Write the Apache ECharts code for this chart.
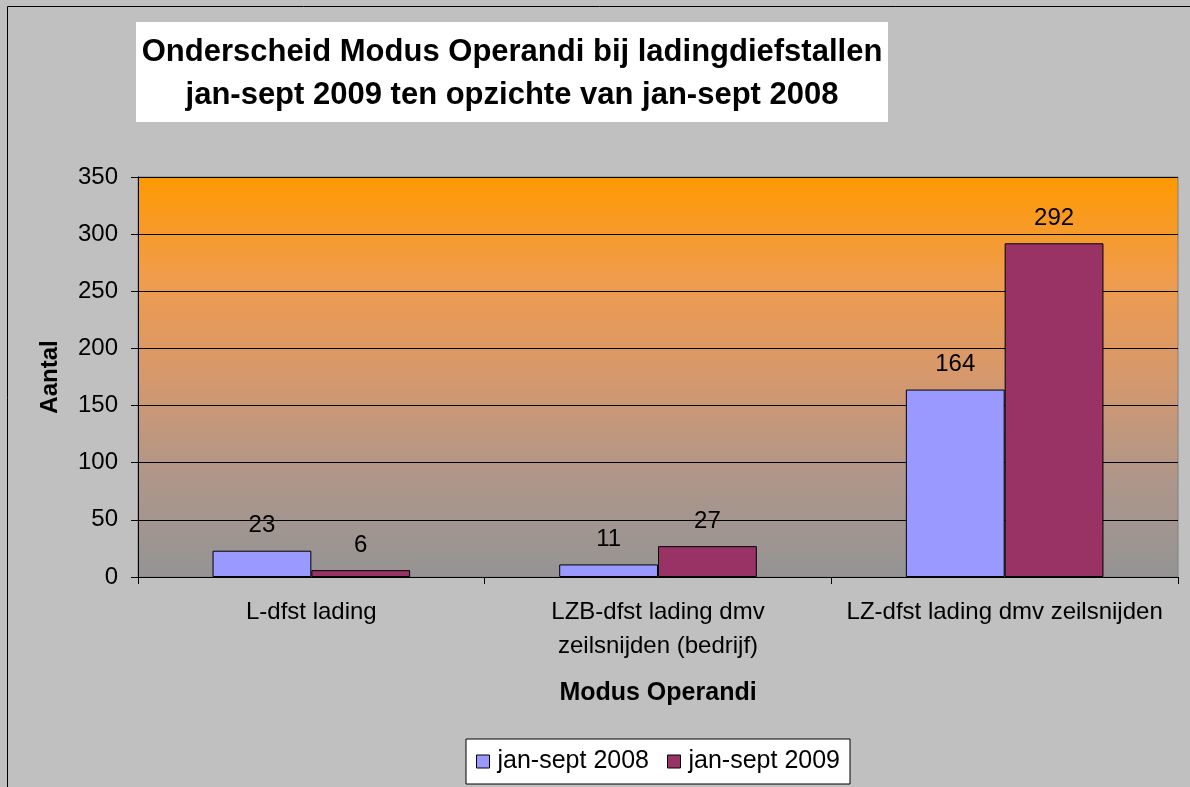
<!DOCTYPE html>
<html>
<head>
<meta charset="utf-8">
<script src="https://cdn.jsdelivr.net/npm/echarts@6/dist/echarts.min.js"></script>
<style>
  html, body { margin: 0; padding: 0; background: #c0c0c0; }
  #main { width: 1190px; height: 787px; }
</style>
</head>
<body>
<div id="main"></div>
<script>
// data
var categories = ['L-dfst lading', 'LZB-dfst lading dmv\nzeilsnijden (bedrijf)', 'LZ-dfst lading dmv zeilsnijden'];
var seriesNames = ['jan-sept 2008', 'jan-sept 2009'];
var values2008 = [23, 11, 164];
var values2009 = [6, 27, 292];
var yTicks = [0, 50, 100, 150, 200, 250, 300, 350];

var font = 'Liberation Sans, Arial, sans-serif';
var chart = echarts.init(document.getElementById('main'));

var barLabel = {
  show: true,
  position: 'top',
  distance: 13,
  color: '#000',
  fontFamily: font,
  fontSize: 24
};

var option = {
  backgroundColor: '#c0c0c0',
  animation: false,
  graphic: [
    {
      type: 'rect',
      shape: { x: 7.5, y: 6.5, width: 1200, height: 800 },
      style: { fill: 'none', stroke: '#000', lineWidth: 1 },
      silent: true
    },
    {
      type: 'rect',
      shape: { x: 136, y: 22, width: 752, height: 100 },
      style: { fill: '#fff' },
      silent: true
    },
    {
      type: 'text',
      x: 512,
      y: 74,
      style: {
        text: 'Onderscheid Modus Operandi bij ladingdiefstallen\njan-sept 2009 ten opzichte van jan-sept 2008',
        fill: '#000',
        font: 'bold 31px ' + font,
        lineHeight: 43,
        align: 'center',
        verticalAlign: 'middle'
      },
      silent: true
    }
  ],
  grid: {
    left: 138,
    top: 177,
    right: 12,
    bottom: 210,
    show: true,
    borderColor: '#808080',
    borderWidth: 1,
    // orange fading to grey, a bit pinkish in the middle
    backgroundColor: new echarts.graphic.LinearGradient(0, 0, 0, 1, [
      { offset: 0, color: '#ff9900' },
      { offset: 0.25, color: '#f09c4c' },
      { offset: 0.5, color: '#d6986c' },
      { offset: 0.75, color: '#af968a' },
      { offset: 1, color: '#949494' }
    ])
  },
  legend: {
    data: seriesNames,
    left: 466,
    top: 739,
    backgroundColor: '#fff',
    borderColor: '#000',
    borderWidth: 1,
    padding: [10, 10, 10, 10],
    itemWidth: 13,
    itemHeight: 13,
    itemGap: 18,
    icon: 'rect',
    itemStyle: { borderColor: '#000', borderWidth: 1 },
    textStyle: { color: '#000', fontFamily: font, fontSize: 25, padding: [0, 0, 0, 3] }
  },
  xAxis: {
    type: 'category',
    data: categories,
    name: 'Modus Operandi',
    nameLocation: 'middle',
    nameGap: 104,
    nameTextStyle: { color: '#000', fontFamily: font, fontSize: 25, fontWeight: 'bold' },
    axisLine: { lineStyle: { color: '#000', width: 1 } },
    axisTick: { show: true, length: 7, lineStyle: { color: '#000' } },
    axisLabel: {
      color: '#000',
      fontFamily: font,
      fontSize: 24,
      lineHeight: 34,
      margin: 18,
      interval: 0
    }
  },
  yAxis: {
    type: 'value',
    min: yTicks[0],
    max: yTicks[yTicks.length - 1],
    interval: 50,
    name: 'Aantal',
    nameLocation: 'middle',
    nameGap: 76,
    nameRotate: 90,
    nameTextStyle: { color: '#000', fontFamily: font, fontSize: 24, fontWeight: 'bold' },
    axisLine: { show: true, lineStyle: { color: '#000', width: 1 } },
    axisTick: { show: true, length: 7, lineStyle: { color: '#000' } },
    axisLabel: { color: '#000', fontFamily: font, fontSize: 24, margin: 20 },
    splitLine: { show: true, lineStyle: { color: '#000', width: 1 } }
  },
  series: [
    {
      name: seriesNames[0],
      type: 'bar',
      data: values2008,
      barGap: '0%',
      barCategoryGap: '43%',
      itemStyle: { color: '#9999ff', borderColor: '#000', borderWidth: 1 },
      label: barLabel
    },
    {
      name: seriesNames[1],
      type: 'bar',
      data: values2009,
      itemStyle: { color: '#993366', borderColor: '#000', borderWidth: 1 },
      label: barLabel
    }
  ]
};

chart.setOption(option);
</script>
</body>
</html>
